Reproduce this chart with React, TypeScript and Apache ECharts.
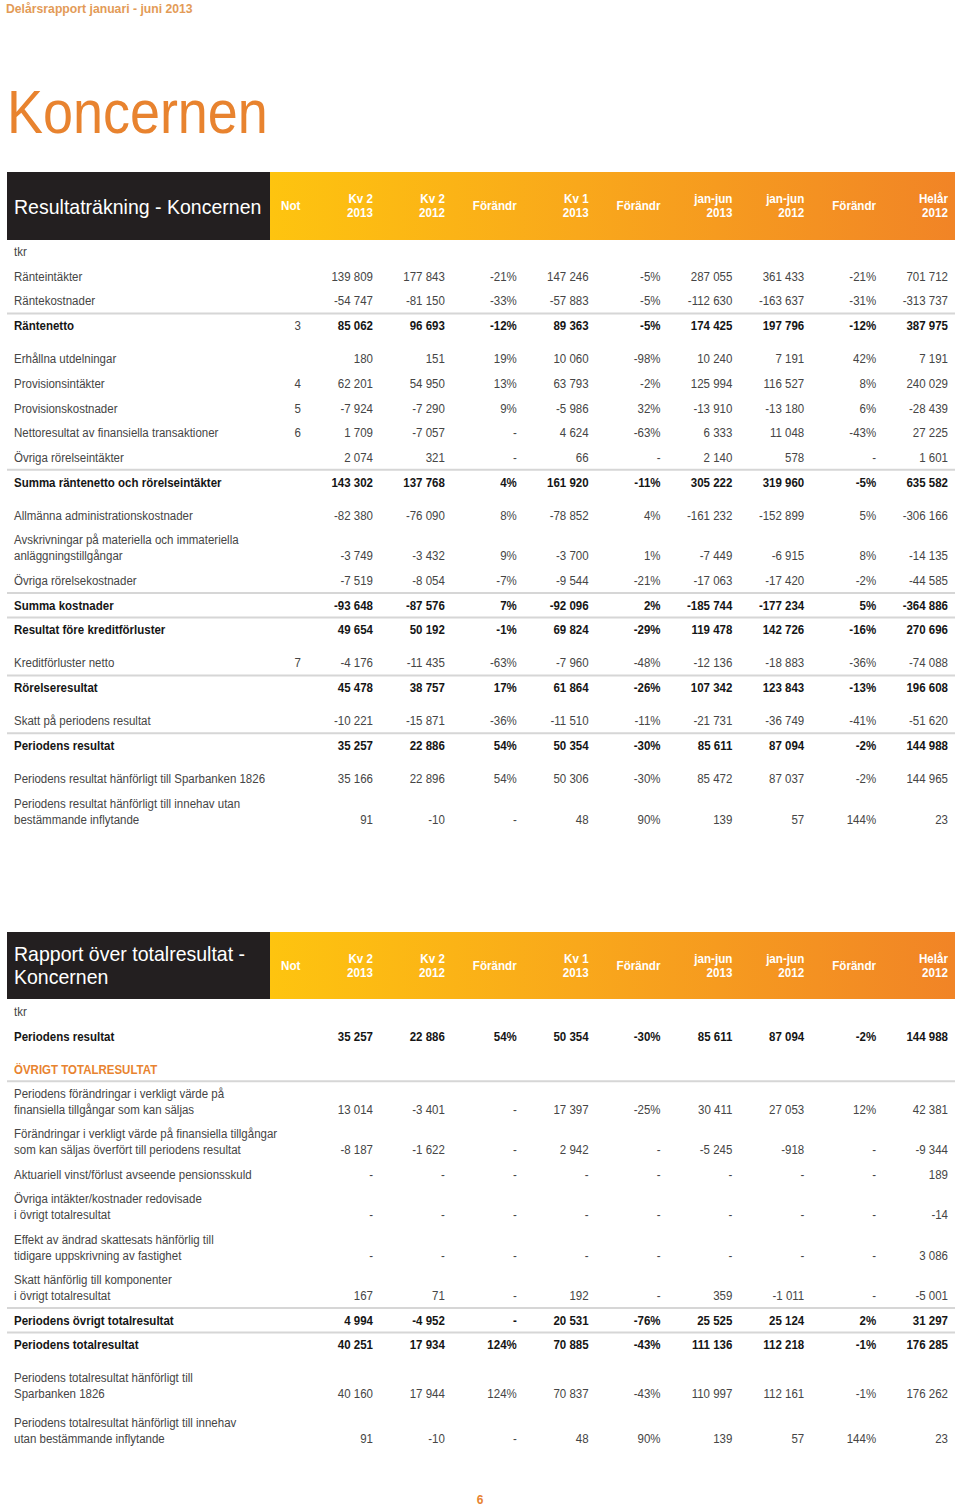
import React, { useEffect, useRef } from "react";
import * as echarts from "echarts";

// ---------------- data ----------------
const reportTitle = "Delårsrapport januari - juni 2013";
const pageTitle = "Koncernen";
const pageNumber = "6";
const unitLabel = "tkr";
const notHeader = "Not";
const columnHeaders = ["Kv 2\n2013", "Kv 2\n2012", "Förändr", "Kv 1\n2013", "Förändr", "jan-jun\n2013", "jan-jun\n2012", "Förändr", "Helår\n2012"];
const percentColumns = [false, false, true, false, true, false, false, true, false];

// Table 1: Resultaträkning
const t1Title = ["Resultaträkning - Koncernen"];
const t1Labels = [
  "Ränteintäkter",
  "Räntekostnader",
  "Räntenetto",
  "Erhållna utdelningar",
  "Provisionsintäkter",
  "Provisionskostnader",
  "Nettoresultat av finansiella transaktioner",
  "Övriga rörelseintäkter",
  "Summa räntenetto och rörelseintäkter",
  "Allmänna administrationskostnader",
  "Avskrivningar på materiella och immateriella\nanläggningstillgångar",
  "Övriga rörelsekostnader",
  "Summa kostnader",
  "Resultat före kreditförluster",
  "Kreditförluster netto",
  "Rörelseresultat",
  "Skatt på periodens resultat",
  "Periodens resultat",
  "Periodens resultat hänförligt till Sparbanken 1826",
  "Periodens resultat hänförligt till innehav utan\nbestämmande inflytande",
];
const t1Notes = ["", "", "3", "", "4", "5", "6", "", "", "", "", "", "", "", "7", "", "", "", "", ""];
const t1Kv2y2013 = [139809, -54747, 85062, 180, 62201, -7924, 1709, 2074, 143302, -82380, -3749, -7519, -93648, 49654, -4176, 45478, -10221, 35257, 35166, 91];
const t1Kv2y2012 = [177843, -81150, 96693, 151, 54950, -7290, -7057, 321, 137768, -76090, -3432, -8054, -87576, 50192, -11435, 38757, -15871, 22886, 22896, -10];
const t1ChgKv2 = [-21, -33, -12, 19, 13, 9, null, null, 4, 8, 9, -7, 7, -1, -63, 17, -36, 54, 54, null];
const t1Kv1y2013 = [147246, -57883, 89363, 10060, 63793, -5986, 4624, 66, 161920, -78852, -3700, -9544, -92096, 69824, -7960, 61864, -11510, 50354, 50306, 48];
const t1ChgKv1 = [-5, -5, -5, -98, -2, 32, -63, null, -11, 4, 1, -21, 2, -29, -48, -26, -11, -30, -30, 90];
const t1JanJun2013 = [287055, -112630, 174425, 10240, 125994, -13910, 6333, 2140, 305222, -161232, -7449, -17063, -185744, 119478, -12136, 107342, -21731, 85611, 85472, 139];
const t1JanJun2012 = [361433, -163637, 197796, 7191, 116527, -13180, 11048, 578, 319960, -152899, -6915, -17420, -177234, 142726, -18883, 123843, -36749, 87094, 87037, 57];
const t1ChgJanJun = [-21, -31, -12, 42, 8, 6, -43, null, -5, 5, 8, -2, 5, -16, -36, -13, -41, -2, -2, 144];
const t1Helar2012 = [701712, -313737, 387975, 7191, 240029, -28439, 27225, 1601, 635582, -306166, -14135, -44585, -364886, 270696, -74088, 196608, -51620, 144988, 144965, 23];

// Table 2: Rapport över totalresultat
const t2Title = ["Rapport över totalresultat -", "Koncernen"];
const t2Labels = [
  "Periodens resultat",
  "ÖVRIGT TOTALRESULTAT",
  "Periodens förändringar i verkligt värde på\nfinansiella tillgångar som kan säljas",
  "Förändringar i verkligt värde på finansiella tillgångar\nsom kan säljas överfört till periodens resultat",
  "Aktuariell vinst/förlust avseende pensionsskuld",
  "Övriga intäkter/kostnader redovisade\ni övrigt totalresultat",
  "Effekt av ändrad skattesats hänförlig till\ntidigare uppskrivning av fastighet",
  "Skatt hänförlig till komponenter\ni övrigt totalresultat",
  "Periodens övrigt totalresultat",
  "Periodens totalresultat",
  "Periodens totalresultat hänförligt till\nSparbanken 1826",
  "Periodens totalresultat hänförligt till innehav\nutan bestämmande inflytande",
];
const t2Notes = ["", "", "", "", "", "", "", "", "", "", "", ""];
const t2Kv2y2013 = [35257, null, 13014, -8187, null, null, null, 167, 4994, 40251, 40160, 91];
const t2Kv2y2012 = [22886, null, -3401, -1622, null, null, null, 71, -4952, 17934, 17944, -10];
const t2ChgKv2 = [54, null, null, null, null, null, null, null, null, 124, 124, null];
const t2Kv1y2013 = [50354, null, 17397, 2942, null, null, null, 192, 20531, 70885, 70837, 48];
const t2ChgKv1 = [-30, null, -25, null, null, null, null, null, -76, -43, -43, 90];
const t2JanJun2013 = [85611, null, 30411, -5245, null, null, null, 359, 25525, 111136, 110997, 139];
const t2JanJun2012 = [87094, null, 27053, -918, null, null, null, -1011, 25124, 112218, 112161, 57];
const t2ChgJanJun = [-2, null, 12, null, null, null, null, null, 2, -1, -1, 144];
const t2Helar2012 = [144988, null, 42381, -9344, 189, -14, 3086, -5001, 31297, 176285, 176262, 23];

// ---------------- layout / style ----------------
const FONT = "'Liberation Sans', Arial, Helvetica, sans-serif";
const COND = 0.92;
const ORANGE = "#E8832F";
const TEXT = "#454545";
const BOLD_TEXT = "#151515";
const LINE = "#d6d6d6";
const LEFT = 7;
const RIGHT = 955;
const BLACK_W = 263;
const FIRST_COL_RIGHT = 373;
const COL_STEP = 71.875;
const NOTE_RIGHT = 301;
const LABEL_X = 14;
const LINE2 = 16;

type TextOpt = { size: number; weight?: string; color: string; align?: string; sx?: number };

function text(t: string, x: number, y: number, o: TextOpt) {
  return {
    type: "text",
    x,
    y,
    scaleX: o.sx ?? 1,
    silent: true,
    style: {
      text: t,
      fill: o.color,
      fontSize: o.size,
      fontFamily: FONT,
      fontWeight: o.weight ?? "normal",
      align: o.align ?? "left",
      verticalAlign: "middle",
    },
  };
}

function hline(y: number) {
  return {
    type: "line",
    silent: true,
    shape: { x1: LEFT, y1: y, x2: RIGHT, y2: y },
    style: { stroke: LINE, lineWidth: 2 },
  };
}

function fmtNum(v: number | null) {
  if (v === null || v === undefined) return "-";
  const s = Math.abs(v).toString().replace(/\B(?=(\d{3})+(?!\d))/g, " ");
  return (v < 0 ? "-" : "") + s;
}
function fmtPct(v: number | null) {
  if (v === null || v === undefined) return "-";
  return v + "%";
}

const colRight = (i: number) => FIRST_COL_RIGHT + i * COL_STEP;

function band(top: number, h: number, titleLines: string[]) {
  const els: any[] = [];
  els.push({ type: "rect", silent: true, shape: { x: LEFT, y: top, width: BLACK_W, height: h }, style: { fill: "#231F20" } });
  els.push({
    type: "rect",
    silent: true,
    shape: { x: LEFT + BLACK_W, y: top, width: RIGHT - LEFT - BLACK_W, height: h },
    style: {
      fill: new echarts.graphic.LinearGradient(0, 0, 1, 0, [
        { offset: 0, color: "#FEC40F" },
        { offset: 0.45, color: "#F9A81B" },
        { offset: 1, color: "#F18426" },
      ]),
    },
  });
  const c = top + h / 2;
  titleLines.forEach((t, i) => {
    const y = titleLines.length === 1 ? c + 1 : c - 11.5 + i * 23;
    els.push(text(t, LABEL_X, y, { size: 21, color: "#ffffff", sx: 0.93 }));
  });
  els.push(text(notHeader, 281, c, { size: 12, weight: "bold", color: "#ffffff", sx: 0.97 }));
  columnHeaders.forEach((hd, i) => {
    const parts = hd.split("\n");
    parts.forEach((p, j) => {
      const y = parts.length === 1 ? c : c - 7 + j * 14;
      els.push(text(p, colRight(i), y, { size: 12, weight: "bold", color: "#ffffff", align: "right", sx: 0.97 }));
    });
  });
  return els;
}

function table(
  startY: number,
  pitch: number,
  labels: string[],
  notes: string[],
  cols: (number | null)[][],
  bold: number[],
  lineBefore: number[],
  gaps: Record<number, number>,
  sections: number[]
) {
  const els: any[] = [];
  els.push(text(unitLabel, LABEL_X, startY, { size: 12.5, color: TEXT, sx: COND }));
  let y = startY;
  labels.forEach((lab, r) => {
    const parts = lab.split("\n");
    y += pitch + (gaps[r] ?? 0) + LINE2 * (parts.length - 1);
    const firstY = y - LINE2 * (parts.length - 1);
    if (lineBefore.includes(r)) els.push(hline(firstY - 12.5));
    const isBold = bold.includes(r);
    const isSection = sections.includes(r);
    const color = isSection ? ORANGE : isBold ? BOLD_TEXT : TEXT;
    const weight = isSection || isBold ? "bold" : "normal";
    parts.forEach((p, j) => {
      els.push(text(p, LABEL_X, firstY + j * LINE2, { size: 12.5, weight, color, sx: COND }));
    });
    if (isSection) return;
    if (notes[r]) els.push(text(notes[r], NOTE_RIGHT, y, { size: 12.5, color: TEXT, align: "right", sx: COND }));
    cols.forEach((col, i) => {
      const v = col[r];
      const s = percentColumns[i] ? fmtPct(v) : fmtNum(v);
      els.push(text(s, colRight(i), y, { size: 12.5, weight, color: isBold ? BOLD_TEXT : TEXT, align: "right", sx: COND }));
    });
  });
  return els;
}

function buildElements() {
  const els: any[] = [];
  els.push(text(reportTitle, 6, 9, { size: 13, weight: "bold", color: "#E39B57", sx: 0.94 }));
  els.push(text(pageTitle, 7, 111, { size: 62, color: ORANGE, sx: 0.87 }));

  els.push(...band(172, 68, t1Title));
  els.push(
    ...table(
      252,
      24.65,
      t1Labels,
      t1Notes,
      [t1Kv2y2013, t1Kv2y2012, t1ChgKv2, t1Kv1y2013, t1ChgKv1, t1JanJun2013, t1JanJun2012, t1ChgJanJun, t1Helar2012],
      [2, 8, 12, 13, 15, 17],
      [2, 8, 12, 13, 15, 17],
      { 3: 8.5, 9: 8.5, 14: 8.5, 16: 8.5, 18: 8.5 },
      []
    )
  );

  els.push(...band(932, 67, t2Title));
  els.push(
    ...table(
      1012,
      24.45,
      t2Labels,
      t2Notes,
      [t2Kv2y2013, t2Kv2y2012, t2ChgKv2, t2Kv1y2013, t2ChgKv1, t2JanJun2013, t2JanJun2012, t2ChgJanJun, t2Helar2012],
      [0, 8, 9],
      [2, 8, 9],
      { 1: 8.5, 10: 8.5, 11: 4 },
      [1]
    )
  );

  els.push(text(pageNumber, 480, 1500, { size: 12, weight: "bold", color: ORANGE, align: "center" }));
  return els;
}

export default function App() {
  const ref = useRef<HTMLDivElement>(null);
  useEffect(() => {
    if (!ref.current) return;
    const chart = echarts.init(ref.current, null, { renderer: "svg", width: 960, height: 1507 });
    chart.setOption({ animation: false, graphic: { elements: buildElements() } });
    return () => chart.dispose();
  }, []);
  return (
    <div
      ref={ref}
      style={{ position: "absolute", left: 0, top: 0, width: 960, height: 1507, background: "#ffffff" }}
    />
  );
}
